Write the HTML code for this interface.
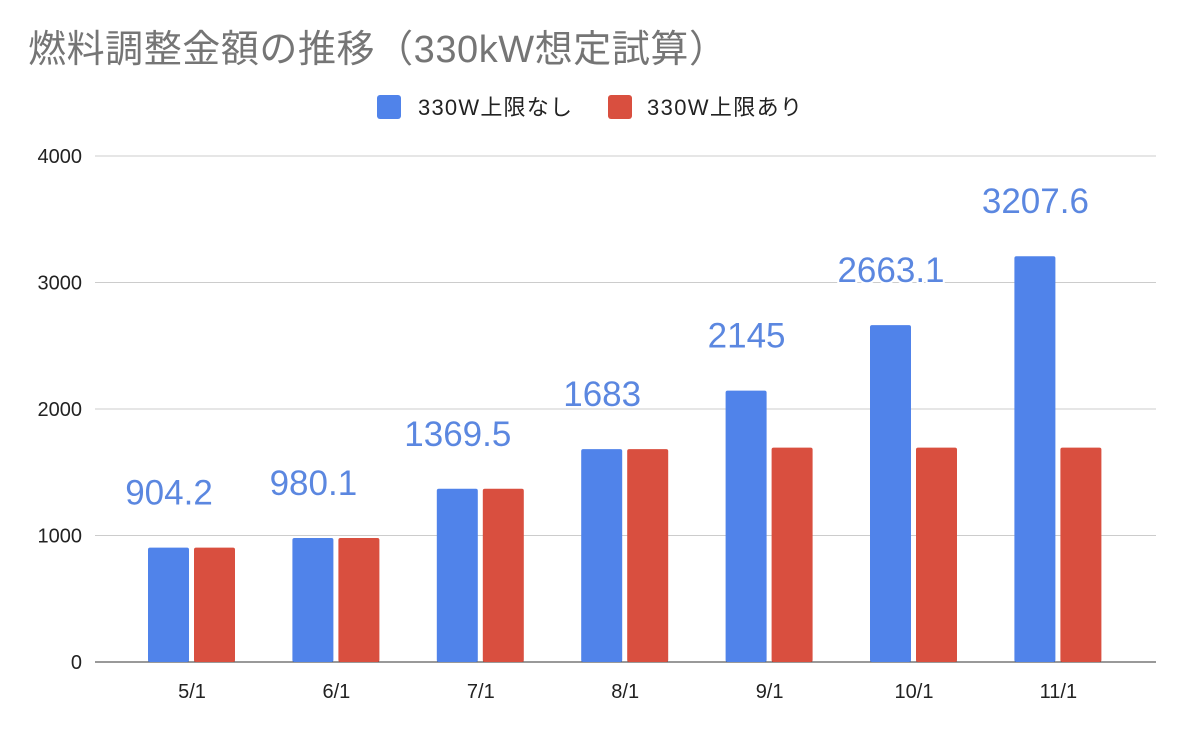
<!DOCTYPE html>
<html><head><meta charset="utf-8">
<style>
body{margin:0;background:#fff;}
svg{display:block;font-family:"Liberation Sans","Noto Sans CJK JP",sans-serif;}
</style></head>
<body>
<svg id="chart" width="1178" height="734">
<text x="28" y="62" font-size="38" fill="#757575" textLength="699">燃料調整金額の推移（330kW想定試算）</text>
<g>
<rect x="377" y="95" width="24" height="24" rx="3" fill="#5083ea"/>
<text x="418" y="115" font-size="22" fill="#222" textLength="154">330W上限なし</text>
<rect x="608" y="95" width="24" height="24" rx="3" fill="#d94f3f"/>
<text x="647" y="115" font-size="22" fill="#222" textLength="155">330W上限あり</text>
</g>
<g id="grid"></g><g id="bars"></g><g id="labels"></g>
</svg>
<script>
const categories=["5/1","6/1","7/1","8/1","9/1","10/1","11/1"];
const noCap=[904.2,980.1,1369.5,1683,2145,2663.1,3207.6];
const withCap=[904.2,980.1,1369.5,1683,1695,1695,1695];
const yTicks=[0,1000,2000,3000,4000];
const ns="http://www.w3.org/2000/svg";
const y=v=>662-v*(506/4000);
const x=i=>192+i*144.4;
function mk(t,a,p){const e=document.createElementNS(ns,t);for(const k in a)e.setAttribute(k,a[k]);p.appendChild(e);return e;}
const grid=document.getElementById('grid'),bars=document.getElementById('bars'),labels=document.getElementById('labels');
yTicks.forEach(v=>{
 const l=mk('line',{x1:95,x2:1156,y1:y(v),y2:y(v),stroke:v===0?'#333':'#ccc','stroke-width':1},grid);
 
 
 const t=mk('text',{x:82,y:y(v)+7,'text-anchor':'end','font-size':20,fill:'#222'},grid);
 t.textContent=v;
 
 
});
categories.forEach((c,i)=>{
 const t=mk('text',{x:x(i),y:698,'text-anchor':'middle','font-size':20,fill:'#222'},grid);
 t.textContent=c;
 
 
 const b1=mk('rect',{x:x(i)-44,y:y(noCap[i]),width:41,height:662-y(noCap[i]),fill:'#5083ea',rx:2},bars);
 
 
 const b2=mk('rect',{x:x(i)+2,y:y(withCap[i]),width:41,height:662-y(withCap[i]),fill:'#d94f3f',rx:2},bars);
 
 
 const lb=mk('text',{x:x(i)-23,y:y(noCap[i])-43,'text-anchor':'middle','font-size':35,fill:'#5b87e0',stroke:'#fff','stroke-width':4,'paint-order':'stroke'},labels);
 lb.textContent=noCap[i];
 
 
});
</script>
</body></html>
